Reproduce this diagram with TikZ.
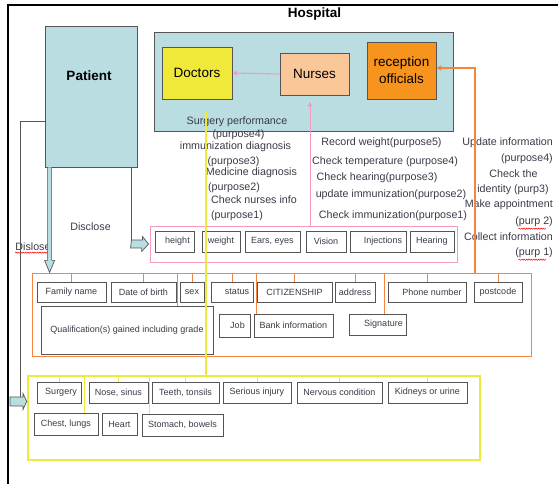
\documentclass[tikz,border=0pt]{standalone}
\usepackage{fontspec}
\setmainfont{Liberation Sans}
\usetikzlibrary{arrows.meta,decorations.pathmorphing,calc}
\definecolor{lblue}{HTML}{B9DDE1}
\definecolor{docy}{HTML}{F0E93A}
\definecolor{nursec}{HTML}{FAC898}
\definecolor{recc}{HTML}{F7941D}
\definecolor{orgline}{HTML}{F5843F}
\definecolor{pinkline}{HTML}{F49AC1}
\definecolor{yline}{HTML}{EEEA3C}
\definecolor{boxgray}{HTML}{555555}
\definecolor{txt}{HTML}{3A3A48}
\begin{document}
\begin{tikzpicture}[x=1pt,y=-1pt,
  lbl/.style={font=\fontsize{9}{10}\selectfont, text=txt, draw=boxgray, line width=0.8pt, fill=white, inner sep=0pt, minimum height=20pt},
  ptxt/.style={font=\fontsize{10.7}{12}\selectfont, text=txt, inner sep=0pt},
  bigbox/.style={draw=boxgray, line width=0.8pt, inner sep=0pt},
  bigtxt/.style={font=\fontsize{13.5}{17}\selectfont, text=black, inner sep=0pt},
  otick/.style={draw=orgline, line width=0.7pt},
  ytick/.style={draw=yline, line width=0.8pt},
  fatarrow/.style={draw=boxgray, fill=lblue, line width=0.7pt, line join=miter},
  wavy/.style={draw=red, line width=0.5pt, decorate, decoration={snake, amplitude=0.6pt, segment length=2.4pt}}
]
\useasboundingbox (0,0) rectangle (558,484);
% frame
\draw[line width=2pt] (8,484) -- (8,5) -- (558,5);

% hospital
\node[font=\bfseries\fontsize{13.5}{16}\selectfont, inner sep=0pt] (hosplbl) at (314.5,14) {Hospital};
\node[bigbox, fill=lblue, minimum width=299pt, minimum height=99pt] (hosp) at (303.5,81.5) {};
\node[bigbox, fill=docy, minimum width=70pt, minimum height=52pt, bigtxt] (doctors) at (197,73) {Doctors};
\node[bigbox, fill=nursec, minimum width=69pt, minimum height=42pt, bigtxt] (nurses) at (314.5,74) {Nurses};
\node[bigbox, fill=recc, minimum width=69pt, minimum height=57pt, bigtxt, align=center] (recep) at (401.5,70.5) {reception\\officials};
\node[ptxt] (surgperf) at (237,122) {Surgery performance};

% patient
\node[bigbox, fill=lblue, minimum width=92pt, minimum height=141pt] (patient) at (91,96.5) {};
\node[font=\bfseries\fontsize{13.5}{16}\selectfont, inner sep=0pt] (patlbl) at (89,76) {Patient};

% purpose texts (doctors)
\node[ptxt] (d1) at (238.5,135) {(purpose4)};
\node[ptxt] (d2) at (235.5,147) {immunization diagnosis};
\node[ptxt] (d3) at (233.5,162) {(purpose3)};
\node[ptxt] (d4) at (251.5,173) {Medicine diagnosis};
\node[ptxt] (d5) at (234,188) {(purpose2)};
\node[ptxt] (d6) at (254,200) {Check nurses info};
\node[ptxt] (d7) at (237,216) {(purpose1)};
% purpose texts (nurses)
\node[ptxt] (n1) at (381.5,143) {Record weight(purpose5)};
\node[ptxt] (n2) at (385,162) {Check temperature (purpose4)};
\node[ptxt] (n3) at (377,178) {Check hearing(purpose3)};
\node[ptxt] (n4) at (391,195) {update immunization(purpose2)};
\node[ptxt] (n5) at (393,216) {Check immunization(purpose1)};
% purpose texts (reception)
\node[ptxt, anchor=east] (r1) at (553,143) {Update information};
\node[ptxt, anchor=east] (r2) at (553,159) {(purpose4)};
\node[ptxt] (r3) at (513.5,174) {Check the};
\node[ptxt] (r4) at (513,190) {identity (purp3)};
\node[ptxt, anchor=east] (r5) at (553,205) {Make appointment};
\node[ptxt, anchor=east] (r6) at (553,222) {(purp 2)};
\node[ptxt, anchor=east] (r7) at (553,237) {Collect information};
\node[ptxt, anchor=east] (r8) at (553,253) {(purp 1)};
\draw[wavy] ([xshift=3.5pt,yshift=-1.5pt]r6.south west) -- ([xshift=-7pt,yshift=-1.5pt]r6.south east);
\draw[wavy] ([xshift=3.5pt,yshift=-1.5pt]r8.south west) -- ([xshift=-7pt,yshift=-1.5pt]r8.south east);

\node[ptxt] (disclose) at (90.5,227) {Disclose};
\node[ptxt] (dislose) at (33,247) {Dislose};
\draw[wavy] ([yshift=-1.5pt]dislose.south west) -- ([yshift=-1.5pt]dislose.south east);

% pink group
\node[draw=pinkline, line width=0.8pt, minimum width=307pt, minimum height=36pt, inner sep=0pt] (pinkbox) at (303.5,244) {};
\node[lbl, minimum width=39pt, minimum height=21pt] (height) at (174.5,241.5) {\hspace*{6pt}height};
\node[lbl, minimum width=38pt, minimum height=21pt] (weight) at (221,241.5) {weight};
\node[lbl, minimum width=55pt, minimum height=21pt] (ears) at (272.5,241.5) {Ears, eyes};
\node[lbl, minimum width=40pt, minimum height=21pt] (vision) at (326,241.5) {Vision};
\node[lbl, minimum width=56pt, minimum height=21pt] (inj) at (378,241.5) {\hspace*{10pt}Injections};
\node[lbl, minimum width=44pt, minimum height=21pt] (hear) at (432,241.5) {Hearing};

% orange group
\node[draw=orgline, line width=0.8pt, minimum width=499pt, minimum height=83pt, inner sep=0pt] (obox) at (281.5,314.5) {};
\node[lbl, minimum width=69pt] (fam) at (71.5,292) {Family name};
\node[lbl, minimum width=65pt] (dob) at (143.5,292) {Date of birth};
\node[lbl, minimum width=24pt] (sex) at (192,292) {sex};
\node[lbl, minimum width=42pt] (status) at (232,292) {\hspace*{10pt}status};
\node[lbl, minimum width=75pt] (citi) at (294.5,292) {CITIZENSHIP};
\node[lbl, minimum width=40pt] (addr) at (355,292) {address};
\node[lbl, minimum width=78pt] (phone) at (427,292) {\hspace*{10pt}Phone number};
\node[lbl, minimum width=48pt] (post) at (498,292) {postcode};
\node[lbl, minimum width=172pt, minimum height=48pt] (qual) at (127,330) {Qualification(s) gained including grade};
\node[lbl, minimum width=31pt, minimum height=23pt] (job) at (234.5,325.5) {\hspace*{6pt}Job};
\node[lbl, minimum width=79pt, minimum height=23pt] (bank) at (293.5,325.5) {Bank information};
\node[lbl, minimum width=57pt, minimum height=21pt] (sig) at (377.5,324.5) {\hspace*{12pt}Signature};
\foreach \n in {fam,dob,sex,status,citi,addr,phone,post}
  \draw[otick] (\n.north) -- (\n.north |- obox.north);
\draw[otick] ([xshift=-2pt]sex.west |- obox.north) -- ([xshift=-2pt]sex.west |- qual.north);
\draw[otick] ([xshift=3pt]bank.north west |- obox.north) -- ([xshift=3pt]bank.north west);
\draw[otick] ([xshift=6.5pt]sig.north |- obox.north) -- ([xshift=6.5pt]sig.north);

% yellow group
\node[draw=yline, line width=2.4pt, minimum width=452pt, minimum height=84pt, inner sep=0pt] (ybox) at (254,418) {};
\node[lbl, minimum width=44pt, minimum height=21pt] (surg) at (59,392.5) {\hspace*{4pt}Surgery};
\node[lbl, minimum width=59pt, minimum height=21pt] (nose) at (118.5,392.5) {Nose, sinus};
\node[lbl, minimum width=67pt, minimum height=21pt] (teeth) at (185.5,392.5) {Teeth, tonsils};
\node[lbl, minimum width=68pt, minimum height=21pt] (serious) at (257,392.5) {Serious injury};
\node[lbl, minimum width=85pt, minimum height=21pt] (nervous) at (339.5,392.5) {Nervous condition};
\node[lbl, minimum width=79pt, minimum height=21pt] (kidney) at (427.5,392.5) {Kidneys or urine};
\node[lbl, minimum width=64pt, minimum height=22pt] (chest) at (66,424) {Chest, lungs};
\node[lbl, minimum width=35pt, minimum height=22pt] (heart) at (119.5,424) {Heart};
\node[lbl, minimum width=81pt, minimum height=22pt] (stomach) at (182.5,425) {Stomach, bowels};
\foreach \n in {surg,nose,teeth,serious,nervous,kidney}
  \draw[ytick] (\n.north) -- (\n.north |- ybox.north);
\draw[ytick] ([xshift=18pt]chest.north |- ybox.north) -- ([xshift=18pt]chest.north);
\draw[ytick] ([xshift=8pt]stomach.north west |- ybox.north) -- ([xshift=8pt]stomach.north west);

% main connectors
\draw[pinkline, line width=1.1pt, -{Triangle[width=4.5pt,length=4.5pt]}] (nurses.west) -- (doctors.east);
\coordinate (ytip) at (206,111);
\draw[yline, line width=1.5pt, -{Triangle[width=5pt,length=5pt]}] (ytip |- ybox.north) -- (ytip);
\coordinate (ptip) at (310,102);
\draw[pinkline, line width=1pt, -{Triangle[width=4.5pt,length=4.5pt]}] (ptip |- pinkbox.north) -- (ptip);
\coordinate (ocorner) at (475,68);
\draw[orgline, line width=1.1pt, -{Triangle[width=5pt,length=5pt]}] (ocorner |- obox.north) -- (ocorner) -- (recep.east |- ocorner);

% patient disclose arrows
\draw[fatarrow] ($(patient.south west)+(3,0)$) -- ++(0,93) -- ++(-3,0) -- ($(patient.south west)+(5,105)$) -- ++(5,-12) -- ++(-3,0) -- ($(patient.south west)+(7,0)$);
\coordinate (pk) at ($(patient.south east)+(-6,0)$);
\draw[boxgray, line width=0.7pt] (pk) -- (pk |- pinkbox.west);
\draw[fatarrow] ($(pk |- pinkbox.west)+(0,-4)$) -- ++(11,0) -- ++(0,-3.5) -- ($(pinkbox.west)+(-1,0)$) -- ++(-7,7.5) -- ++(0,-3.5) -- ++(-11,0) -- cycle;
\coordinate (lc) at (20,121);
\coordinate (lb) at (20,397);
\coordinate (ya) at (10,401.5);
\draw[boxgray, line width=0.7pt] (patient.west |- lc) -- (lc) -- (lb);
\draw[fatarrow] (10,397) -- (23,397) -- (23,393.5) -- (ybox.west |- ya) -- (23,409.5) -- (23,406) -- (10,406) -- cycle;
\end{tikzpicture}
\end{document}
